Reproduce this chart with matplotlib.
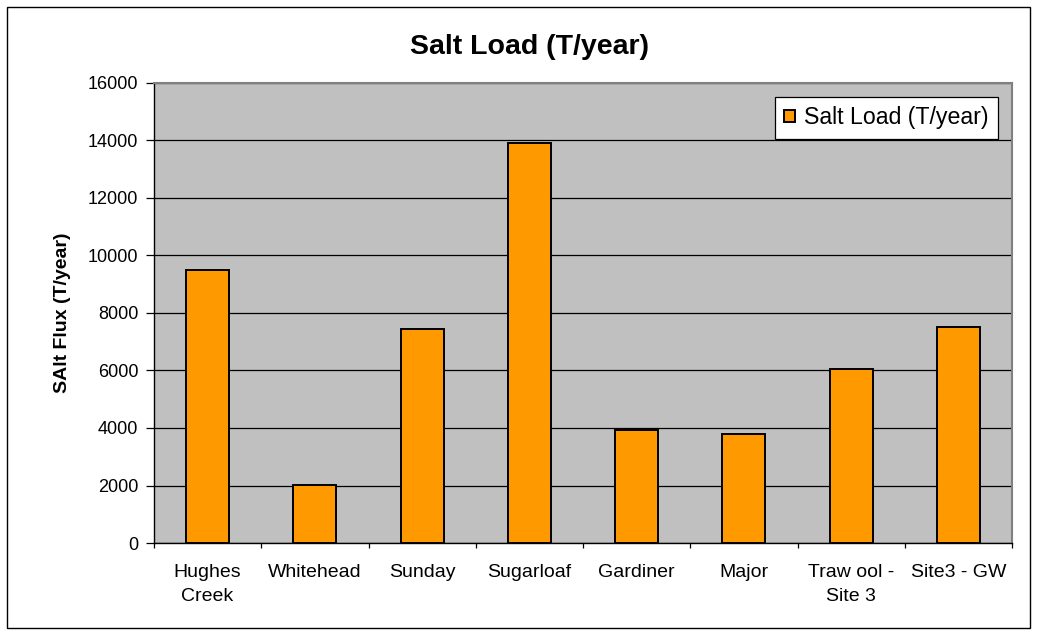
import numpy as np
import matplotlib
matplotlib.use("Agg")
import matplotlib.pyplot as plt
from matplotlib.patches import Rectangle

plt.rcParams['font.family'] = ['Liberation Sans', 'DejaVu Sans']

# site names and salt load (T/year)
sites = ["Hughes\nCreek", "Whitehead", "Sunday", "Sugarloaf", "Gardiner",
         "Major", "Traw ool -\nSite 3", "Site3 - GW"]
salt_load = [9480, 2020, 7450, 13920, 3920, 3790, 6060, 7530]
y_ticks = [0, 2000, 4000, 6000, 8000, 10000, 12000, 14000, 16000]

fig = plt.figure(figsize=(10.37, 6.35), dpi=100)
ax = fig.add_axes([154/1037, 92/635, 858/1037, 460/635])

# outer chart border
fig.patches.append(Rectangle((7/1037, 7/635), 1023/1037, 621/635,
                             transform=fig.transFigure, fill=False,
                             edgecolor='black', linewidth=1.0))

x = np.arange(len(sites))
ax.set_facecolor('#C0C0C0')
ax.bar(x, salt_load, width=0.4, color='#FF9900', edgecolor='black',
       linewidth=1.4, label='Salt Load (T/year)', zorder=3)

ax.set_xlim(-0.5, len(sites) - 0.5)
ax.set_ylim(0, 16000)
ax.set_yticks(y_ticks)
ax.yaxis.grid(True, color='black', linewidth=0.9, zorder=1)
ax.set_axisbelow(True)

ax.set_xticks(x)
ax.set_xticklabels(sites, fontsize=14, linespacing=1.55)
ax.set_xticks(np.arange(-0.5, len(sites)), minor=True)
ax.tick_params(axis='x', which='major', length=0, pad=15)
ax.tick_params(axis='x', which='minor', length=3.6, width=0.9, direction='out')
ax.tick_params(axis='y', length=5.5, width=0.9, labelsize=13, pad=5.8)

for side in ('top', 'right'):
    ax.spines[side].set_color('#808080')
    ax.spines[side].set_linewidth(1.5)
for side in ('left', 'bottom'):
    ax.spines[side].set_color('black')
    ax.spines[side].set_linewidth(1.0)

ax.set_ylabel('SAlt Flux (T/year)', fontsize=14, fontweight='bold', labelpad=12)
fig.text(530/1037, 1 - 47/635, 'Salt Load (T/year)', fontsize=20.5,
         fontweight='bold', ha='center', va='center')

leg = ax.legend(loc='upper right', fontsize=16.7, frameon=True, framealpha=1,
                fancybox=False, borderpad=0.4, handlelength=0.48,
                handleheight=0.48, handletextpad=0.4, borderaxespad=0)
leg.get_frame().set_facecolor('white')
leg.get_frame().set_edgecolor('black')
leg.get_frame().set_linewidth(0.9)
# legend anchor in axes coordinates
leg.set_bbox_to_anchor(((998 - 154) / 858, 1 - 14 / 460), transform=ax.transAxes)

fig.savefig('out.png', dpi=100)
